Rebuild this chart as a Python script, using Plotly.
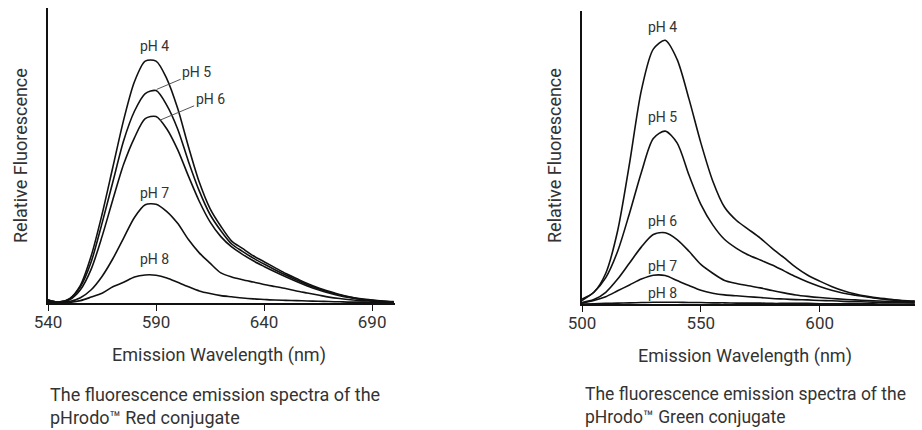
import plotly.graph_objects as go

# ---------------- data ----------------
red_nm = [540, 545, 550, 555, 560, 565, 570, 575, 580, 585, 590, 595, 600, 605, 610,
          615, 620, 625, 630, 635, 640, 645, 650, 655, 660, 665, 670, 675, 680, 685,
          690, 695, 700]
red_ph4 = [0.010, 0.003, 0.015, 0.060, 0.160, 0.300, 0.460, 0.620, 0.750, 0.820, 0.820,
           0.760, 0.660, 0.530, 0.410, 0.320, 0.260, 0.210, 0.185, 0.160, 0.140, 0.120,
           0.100, 0.083, 0.066, 0.052, 0.040, 0.029, 0.020, 0.014, 0.010, 0.007, 0.005]
red_ph5 = [0.010, 0.003, 0.014, 0.055, 0.140, 0.270, 0.410, 0.550, 0.650, 0.710, 0.720,
           0.670, 0.590, 0.480, 0.380, 0.300, 0.245, 0.200, 0.175, 0.152, 0.132, 0.113,
           0.095, 0.078, 0.062, 0.049, 0.037, 0.027, 0.019, 0.013, 0.009, 0.006, 0.004]
red_ph6 = [0.010, 0.002, 0.011, 0.045, 0.115, 0.225, 0.350, 0.470, 0.560, 0.625, 0.632,
           0.590, 0.520, 0.430, 0.345, 0.275, 0.225, 0.190, 0.165, 0.143, 0.124, 0.106,
           0.089, 0.073, 0.058, 0.045, 0.034, 0.025, 0.018, 0.012, 0.008, 0.005, 0.003]
red_ph7 = [0.005, 0.001, 0.005, 0.018, 0.045, 0.090, 0.150, 0.220, 0.290, 0.333, 0.335,
           0.310, 0.270, 0.215, 0.170, 0.135, 0.102, 0.088, 0.079, 0.071, 0.063, 0.056,
           0.049, 0.041, 0.034, 0.027, 0.020, 0.015, 0.011, 0.008, 0.006, 0.004, 0.003]
red_ph8 = [0.002, 0.000, 0.002, 0.008, 0.020, 0.033, 0.055, 0.070, 0.088, 0.095, 0.094,
           0.085, 0.070, 0.055, 0.041, 0.032, 0.025, 0.021, 0.017, 0.014, 0.012, 0.010,
           0.009, 0.008, 0.007, 0.006, 0.005, 0.004, 0.003, 0.003, 0.002, 0.002, 0.002]

green_nm = [500, 505, 510, 515, 520, 525, 530, 535, 540, 545, 550, 555, 560, 565, 570,
            575, 580, 585, 590, 595, 600, 605, 610, 615, 620, 625, 630, 635, 640]
green_ph4 = [0.017, 0.040, 0.105, 0.250, 0.480, 0.730, 0.870, 0.900, 0.835, 0.700, 0.550,
             0.420, 0.330, 0.285, 0.255, 0.225, 0.190, 0.158, 0.125, 0.098, 0.078, 0.060,
             0.045, 0.034, 0.026, 0.020, 0.016, 0.012, 0.010]
green_ph5 = [0.012, 0.040, 0.090, 0.180, 0.310, 0.450, 0.565, 0.590, 0.550, 0.440, 0.340,
             0.270, 0.220, 0.190, 0.167, 0.150, 0.133, 0.113, 0.093, 0.075, 0.060, 0.047,
             0.037, 0.030, 0.024, 0.018, 0.014, 0.011, 0.009]
green_ph6 = [0.005, 0.015, 0.040, 0.085, 0.140, 0.195, 0.237, 0.243, 0.220, 0.180, 0.135,
             0.105, 0.080, 0.070, 0.062, 0.055, 0.046, 0.038, 0.031, 0.026, 0.022, 0.019,
             0.016, 0.014, 0.012, 0.010, 0.009, 0.008, 0.007]
green_ph7 = [0.003, 0.012, 0.025, 0.045, 0.065, 0.085, 0.098, 0.097, 0.080, 0.063, 0.047,
             0.037, 0.031, 0.028, 0.025, 0.022, 0.019, 0.017, 0.015, 0.014, 0.012, 0.011,
             0.009, 0.008, 0.007, 0.006, 0.005, 0.005, 0.004]
green_ph8 = [0.000, 0.001, 0.002, 0.003, 0.004, 0.005, 0.006, 0.006, 0.006, 0.005, 0.005,
             0.004, 0.004, 0.003, 0.003, 0.003, 0.002, 0.002, 0.002, 0.002, 0.001, 0.001,
             0.001, 0.001, 0.001, 0.000, 0.000, 0.000, 0.000]

red_ticks = [540, 590, 640, 690]
green_ticks = [500, 550, 600]
ph_labels = ["pH 4", "pH 5", "pH 6", "pH 7", "pH 8"]

# ---------------- figure ----------------
TXT = "#333333"
FONT = "Roboto"
LINE = "#111111"

fig = go.Figure()
red_series = [red_ph4, red_ph5, red_ph6, red_ph7, red_ph8]
green_series = [green_ph4, green_ph5, green_ph6, green_ph7, green_ph8]
for name, ys in zip(ph_labels, red_series):
    fig.add_trace(go.Scatter(x=red_nm, y=ys, mode="lines", name=name,
                             line=dict(color=LINE, width=1.6, shape="spline", smoothing=0.8),
                             xaxis="x", yaxis="y", showlegend=False, hoverinfo="skip"))
for name, ys in zip(ph_labels, green_series):
    fig.add_trace(go.Scatter(x=green_nm, y=ys, mode="lines", name=name,
                             line=dict(color=LINE, width=1.6, shape="spline", smoothing=0.8),
                             xaxis="x2", yaxis="y2", showlegend=False, hoverinfo="skip"))

W, H = 922, 430
def px(x):
    return x / W
def py(y):
    return 1 - y / H

axis_common = dict(showgrid=False, zeroline=False, showline=True, linecolor=LINE,
                   linewidth=1.6, automargin=False)
tick_common = dict(ticks="outside", ticklen=6, tickwidth=1.4, tickcolor=LINE,
                   tickfont=dict(size=17, color=TXT, family=FONT))
fig.update_layout(
    template="none",
    width=W, height=H,
    margin=dict(l=0, r=0, t=0, b=0, pad=0, autoexpand=False),
    paper_bgcolor="white", plot_bgcolor="white",
    font=dict(family=FONT, color=TXT, size=18),
    xaxis=dict(domain=[px(48), px(395)], range=[540, 700.6], tickvals=red_ticks,
               anchor="y", **tick_common, **axis_common),
    yaxis=dict(domain=[py(303), py(8)], range=[0, 1], showticklabels=False,
               ticks="", anchor="x", **axis_common),
    xaxis2=dict(domain=[px(582), px(915)], range=[500, 640.1], tickvals=green_ticks,
                anchor="y2", **tick_common, **axis_common),
    yaxis2=dict(domain=[py(304), py(11)], range=[0, 1], showticklabels=False,
                ticks="", anchor="x2", **axis_common),
)
try:
    fig.update_xaxes(ticklabelstandoff=-3)
except Exception:
    pass

ann = []
lab = dict(size=14, color=TXT, family=FONT)
C = dict(xanchor="center", yanchor="middle")
# red chart labels
ann.append(dict(x=589.1, y=0.871, xref="x", yref="y", text="pH 4", showarrow=False, font=lab, **C))
ann.append(dict(x=590.3, y=0.724, xref="x", yref="y", text="pH 5", showarrow=True,
                arrowhead=0, arrowwidth=1, arrowcolor="#555555", ax=40, ay=-17,
                standoff=0, font=lab))
ann.append(dict(x=591.9, y=0.620, xref="x", yref="y", text="pH 6", showarrow=True,
                arrowhead=0, arrowwidth=1, arrowcolor="#555555", ax=50, ay=-21,
                standoff=0, font=lab))
ann.append(dict(x=589.1, y=0.374, xref="x", yref="y", text="pH 7", showarrow=False, font=lab, **C))
ann.append(dict(x=589.1, y=0.148, xref="x", yref="y", text="pH 8", showarrow=False, font=lab, **C))
# green chart labels
for t, yv in zip(ph_labels, [0.946, 0.637, 0.284, 0.130, 0.039]):
    ann.append(dict(x=533.9, y=yv, xref="x2", yref="y2", text=t, showarrow=False,
                    font=lab, **C))

# axis titles
for xc in [20, 554]:
    ann.append(dict(x=px(xc), y=py(156), xref="paper", yref="paper",
                    text="Relative Fluorescence", textangle=-90, showarrow=False,
                    font=dict(size=18, color=TXT, family=FONT), **C))
for xc, yc in [(219, 355), (745, 356)]:
    ann.append(dict(x=px(xc), y=py(yc), xref="paper", yref="paper",
                    text="Emission Wavelength (nm)", showarrow=False,
                    font=dict(size=18, color=TXT, family=FONT), **C))
# captions
for xl, name, fs in [(48, "Red", 18), (582.5, "Green", 17.5)]:
    ann.append(dict(x=px(xl), y=py(394), xref="paper", yref="paper", xanchor="left",
                    yanchor="middle",
                    text="The fluorescence emission spectra of the", showarrow=False,
                    font=dict(size=fs, color=TXT, family=FONT)))
    ann.append(dict(x=px(xl), y=py(417), xref="paper", yref="paper", xanchor="left",
                    yanchor="middle",
                    text=f"pHrodo™ {name} conjugate", showarrow=False,
                    font=dict(size=fs, color=TXT, family=FONT)))

fig.update_layout(annotations=ann)
fig.write_html("out.html", config={"displayModeBar": False},
               post_script="document.body.style.margin='0';document.body.style.overflow='hidden';")
